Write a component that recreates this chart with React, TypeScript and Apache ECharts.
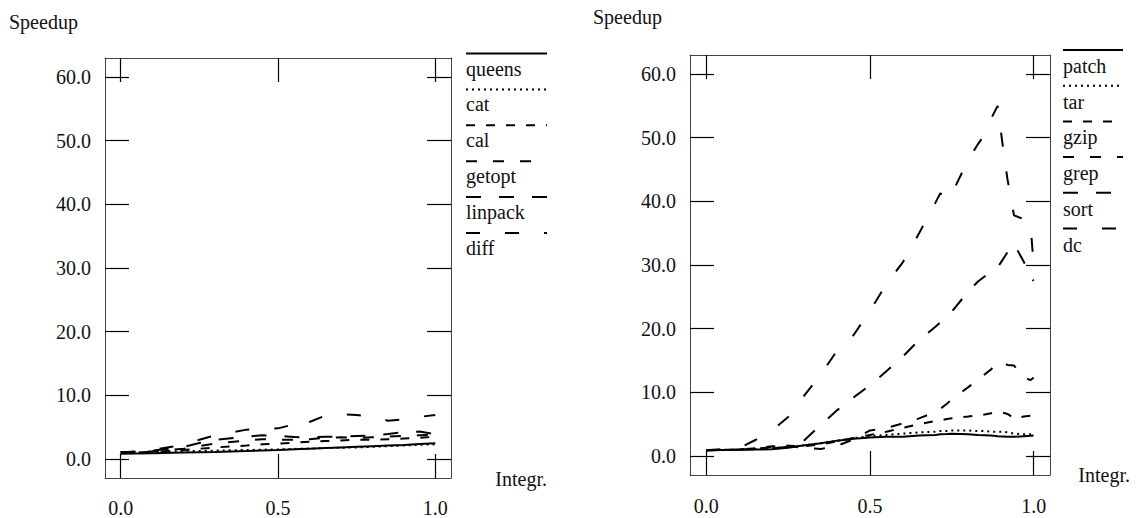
import React, { useEffect, useRef } from "react";
import * as echarts from "echarts";

// Integration fraction sampled on each panel
const LEFT_X = [0, 0.1, 0.2, 0.25, 0.3, 0.4, 0.45, 0.5, 0.54, 0.57, 0.6, 0.65, 0.7, 0.75, 0.8, 0.85, 0.9, 0.95, 1.0];
const RIGHT_X = [0, 0.1, 0.15, 0.2, 0.25, 0.29, 0.35, 0.4, 0.45, 0.5, 0.55, 0.6, 0.65, 0.7, 0.715, 0.735, 0.75, 0.8, 0.83, 0.85, 0.87, 0.89, 0.905, 0.92, 0.94, 0.97, 0.99, 1.0];

// Left panel speedups
const LEFT_NAMES = ["queens", "cat", "cal", "getopt", "linpack", "diff"];
const queens = [0.8, 0.9, 1.0, 1.05, 1.1, 1.25, 1.33, 1.4, 1.48, 1.54, 1.6, 1.7, 1.8, 1.9, 2.0, 2.1, 2.2, 2.33, 2.45];
const cat = [1.0, 1.05, 1.2, 1.25, 1.3, 1.4, 1.45, 1.5, 1.55, 1.6, 1.62, 1.7, 1.75, 1.8, 1.9, 2.0, 2.1, 2.2, 2.3];
const cal = [1.0, 1.1, 1.4, 1.6, 1.8, 2.1, 2.3, 2.4, 2.5, 2.6, 2.7, 2.8, 2.9, 3.0, 3.0, 3.1, 3.2, 3.3, 3.5];
const getopt = [1.0, 1.2, 1.6, 2.0, 2.4, 2.9, 3.1, 3.0, 3.0, 3.0, 3.1, 3.3, 3.4, 3.3, 3.4, 3.5, 3.6, 3.7, 3.8];
const linpack = [1.0, 1.3, 1.9, 2.5, 3.0, 3.5, 3.7, 3.6, 3.5, 3.4, 3.4, 3.5, 3.5, 3.6, 3.7, 3.9, 4.2, 4.3, 3.9];
const diff = [1.0, 1.4, 2.2, 3.0, 3.7, 4.6, 4.7, 4.8, 5.3, 4.6, 5.8, 6.8, 7.0, 6.9, 6.6, 6.0, 6.2, 6.6, 6.9];

// Right panel speedups
const RIGHT_NAMES = ["patch", "tar", "gzip", "grep", "sort", "dc"];
const patch = [0.9, 0.95, 1.0, 1.05, 1.3, 1.6, 2.0, 2.4, 2.7, 2.9, 3.0, 3.0, 3.2, 3.3, 3.4, 3.45, 3.5, 3.4, 3.3, 3.25, 3.2, 3.1, 3.05, 3.0, 3.0, 3.1, 3.15, 3.2];
const tar = [0.9, 1.0, 1.1, 1.2, 1.4, 1.6, 2.0, 2.4, 2.8, 3.1, 3.3, 3.5, 3.7, 3.8, 3.9, 3.9, 4.0, 4.0, 3.9, 3.9, 3.8, 3.8, 3.8, 3.7, 3.5, 3.4, 3.4, 3.4];
const gzip = [0.9, 1.0, 1.2, 1.5, 1.6, 1.5, 1.8, 2.3, 2.8, 3.3, 3.8, 4.4, 5.0, 5.5, 5.6, 5.8, 5.9, 6.2, 6.4, 6.5, 6.7, 6.8, 6.8, 6.6, 5.9, 6.2, 6.3, 6.4];
const grep = [0.9, 1.0, 1.1, 1.4, 1.6, 1.3, 1.1, 1.6, 2.6, 4.0, 4.4, 5.1, 5.9, 6.9, 7.4, 8.2, 8.9, 10.8, 11.9, 12.8, 13.6, 14.6, 14.7, 14.3, 14.2, 12.4, 11.9, 12.3];
const sort = [0.9, 1.0, 1.05, 1.2, 1.4, 2.0, 4.9, 7.2, 9.2, 11.1, 13.3, 15.6, 18.2, 20.3, 21.0, 21.9, 22.7, 25.8, 27.4, 28.2, 28.6, 29.6, 30.8, 32.0, 33.3, 30.5, 28.2, 27.5];
const dc = [0.9, 1.2, 2.5, 4.0, 6.1, 8.9, 12.8, 16.6, 19.0, 22.8, 27.0, 30.4, 35.0, 39.8, 41.3, 40.2, 41.2, 46.5, 49.0, 50.5, 53.0, 55.0, 49.0, 43.5, 37.8, 37.2, 36.7, 30.0];

const LEFT_VALUES = [queens, cat, cal, getopt, linpack, diff];
const RIGHT_VALUES = [patch, tar, gzip, grep, sort, dc];

const X_TICKS = [0, 0.5, 1.0];
const Y_TICKS = [0, 10, 20, 30, 40, 50, 60];

// gnuplot-style line types, one per series slot
const DASHES: any[] = ["solid", [2, 4], [9, 11], [11, 16], [15, 18], [14, 25]];

const FONT = "Liberation Serif, serif";
const FONT_SIZE = 20;
const FONT_SHORTHAND = `${FONT_SIZE}px Liberation Serif, serif`;

const panels = [
  {
    grid: { left: 105, top: 58, width: 346, height: 421 },
    names: LEFT_NAMES,
    values: LEFT_VALUES,
    xs: LEFT_X,
    speedup: { x: 9, y: 22 },
    integr: { x: 547, y: 479 },
    legend: { x1: 466, x2: 547, y0: 53.5, step: 35.9, textDy: 15 },
    labelMarginX: 20,
  },
  {
    grid: { left: 690, top: 55, width: 360, height: 420 },
    names: RIGHT_NAMES,
    values: RIGHT_VALUES,
    xs: RIGHT_X,
    speedup: { x: 593, y: 17 },
    integr: { x: 1130, y: 475 },
    legend: { x1: 1063, x2: 1123, y0: 50, step: 35.7, textDy: 16 },
    labelMarginX: 21,
  },
];

const textStyle = { fontFamily: FONT, fontSize: FONT_SIZE, color: "#111" };

function xAxisPair(gridIndex: number, margin: number) {
  const common = {
    type: "value",
    gridIndex,
    min: -0.05,
    max: 1.05,
    splitLine: { show: false },
    axisLine: { show: true, onZero: false, lineStyle: { color: "#444", width: 1 } },
    axisTick: { show: true, inside: true, length: 24, customValues: X_TICKS, lineStyle: { color: "#000", width: 1.2 } },
  };
  return [
    {
      ...common,
      position: "bottom",
      axisLabel: { show: true, customValues: X_TICKS, margin, formatter: (v: number) => v.toFixed(1), ...textStyle },
    },
    { ...common, position: "top", axisLabel: { show: false } },
  ];
}

function yAxisPair(gridIndex: number) {
  const common = {
    type: "value",
    gridIndex,
    min: -3,
    max: 63,
    splitLine: { show: false },
    axisLine: { show: true, onZero: false, lineStyle: { color: "#444", width: 1 } },
    axisTick: { show: true, inside: true, length: 24, customValues: Y_TICKS, lineStyle: { color: "#000", width: 1.2 } },
  };
  return [
    {
      ...common,
      position: "left",
      axisLabel: { show: true, customValues: Y_TICKS, margin: 14, formatter: (v: number) => v.toFixed(1), ...textStyle },
    },
    { ...common, position: "right", axisLabel: { show: false } },
  ];
}

function textEl(text: string, x: number, y: number, align: string) {
  return {
    type: "text",
    x,
    y,
    style: {
      text,
      font: FONT_SHORTHAND,
      fill: "#111",
      textAlign: align,
      textVerticalAlign: "middle",
      verticalAlign: "middle",
    },
  };
}

function buildOption() {
  const grids: any[] = [];
  const xAxes: any[] = [];
  const yAxes: any[] = [];
  const series: any[] = [];
  const graphics: any[] = [];

  panels.forEach((p, gi) => {
    grids.push({ ...p.grid, containLabel: false, show: false });
    xAxes.push(...xAxisPair(gi, p.labelMarginX));
    yAxes.push(...yAxisPair(gi));

    p.names.forEach((name, si) => {
      series.push({
        type: "line",
        name,
        xAxisIndex: gi * 2,
        yAxisIndex: gi * 2,
        data: p.xs.map((x, k) => [x, p.values[si][k]]),
        symbol: "none",
        lineStyle: { color: "#000", width: 2, type: DASHES[si] },
        silent: true,
      });

      const ly = p.legend.y0 + si * p.legend.step;
      graphics.push({
        type: "line",
        shape: { x1: p.legend.x1, y1: ly, x2: p.legend.x2, y2: ly },
        style: { stroke: "#000", lineWidth: 2, lineDash: DASHES[si] === "solid" ? null : DASHES[si] },
      });
      graphics.push(textEl(name, p.legend.x1, ly + p.legend.textDy, "left"));
    });

    graphics.push(textEl("Speedup", p.speedup.x, p.speedup.y, "left"));
    graphics.push(textEl("Integr.", p.integr.x, p.integr.y, "right"));
  });

  return {
    animation: false,
    backgroundColor: "#fff",
    grid: grids,
    xAxis: xAxes,
    yAxis: yAxes,
    series,
    graphic: graphics,
  };
}

export default function App() {
  const ref = useRef<HTMLDivElement>(null);
  useEffect(() => {
    if (!ref.current) return;
    const chart = echarts.init(ref.current, undefined, { renderer: "svg" });
    chart.setOption(buildOption() as any);
    return () => chart.dispose();
  }, []);
  return (
    <div
      ref={ref}
      style={{ position: "fixed", left: 0, top: 0, width: 1136, height: 518, background: "#fff" }}
    />
  );
}
